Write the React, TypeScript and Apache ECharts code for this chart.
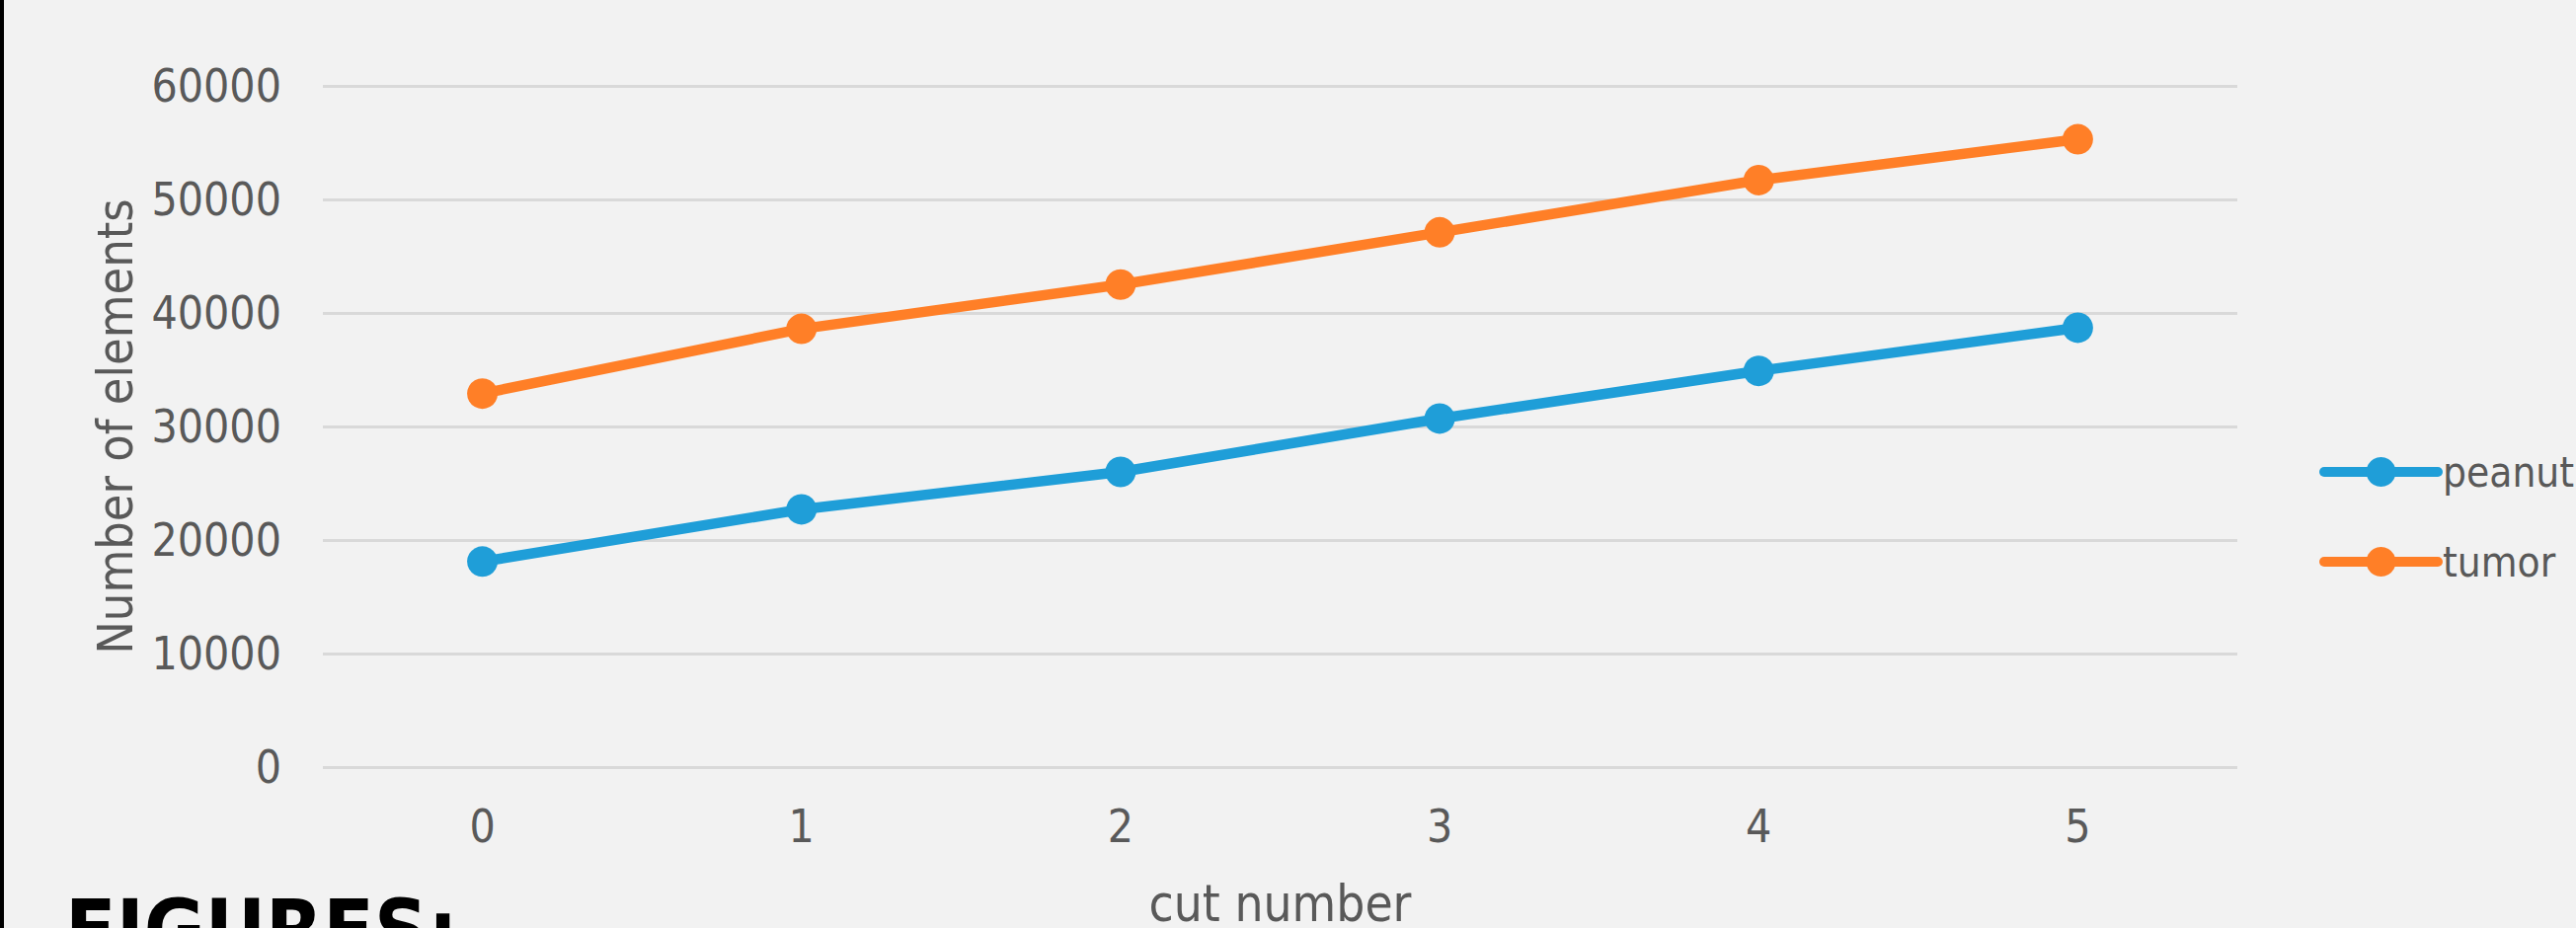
import React, { useEffect, useRef } from "react";
import * as echarts from "echarts";

const categories = ["0", "1", "2", "3", "4", "5"];
const peanut = [18100, 22700, 26000, 30700, 34900, 38700];
const tumor = [32900, 38600, 42500, 47100, 51700, 55300];
const yTicks = { min: 0, max: 60000, interval: 10000 };

const FONT = "'DejaVu Sans Condensed', 'DejaVu Sans', sans-serif";
const TEXT = "#595959";
const BLUE = "#1f9ed8";
const ORANGE = "#ff7f27";

export default function App() {
  const ref = useRef<HTMLDivElement>(null);
  useEffect(() => {
    if (!ref.current) return;
    const chart = echarts.init(ref.current, null, { renderer: "svg" });
    chart.setOption({
      animation: false,
      backgroundColor: "#f2f2f2",
      textStyle: { fontFamily: FONT },
      grid: {
        left: 327,
        right: 343,
        top: 87,
        bottom: 163,
        containLabel: false,
        outerBoundsMode: "none",
      },
      legend: {
        orient: "vertical",
        left: 2344,
        top: 447,
        itemWidth: 115,
        itemHeight: 37.5,
        itemGap: 39,
        itemTextGap: 4,
        lineStyle: { width: 10, cap: "round" },
        textStyle: { fontFamily: FONT, fontSize: 42, lineHeight: 52, color: TEXT },
        data: ["peanut", "tumor"],
      },
      xAxis: {
        type: "category",
        data: categories,
        boundaryGap: true,
        axisLine: { show: false },
        axisTick: { show: false },
        axisLabel: { fontFamily: FONT, fontSize: 46, color: TEXT, margin: 37 },
        name: "cut number",
        nameLocation: "middle",
        nameGap: 114,
        nameTextStyle: { fontFamily: FONT, fontSize: 51, lineHeight: 48, color: TEXT },
      },
      yAxis: {
        type: "value",
        min: yTicks.min,
        max: yTicks.max,
        interval: yTicks.interval,
        axisLine: { show: false },
        axisTick: { show: false },
        splitLine: { lineStyle: { color: "#d9d9d9", width: 3 } },
        axisLabel: {
          fontFamily: FONT,
          fontSize: 46,
          color: TEXT,
          margin: 42,
          formatter: (v: number) => String(v),
        },
        name: "Number of elements",
        nameLocation: "middle",
        nameGap: 184,
        nameTextStyle: { fontFamily: FONT, fontSize: 50, color: TEXT },
      },
      series: [
        {
          name: "peanut",
          type: "line",
          data: peanut,
          symbol: "circle",
          symbolSize: 31,
          color: BLUE,
          lineStyle: { width: 10.5, color: BLUE, cap: "round" },
          itemStyle: { color: BLUE },
        },
        {
          name: "tumor",
          type: "line",
          data: tumor,
          symbol: "circle",
          symbolSize: 31,
          color: ORANGE,
          lineStyle: { width: 10.5, color: ORANGE, cap: "round" },
          itemStyle: { color: ORANGE },
        },
      ],
      graphic: [
        {
          type: "rect",
          left: 0,
          top: 0,
          shape: { x: 0, y: 0, width: 4, height: 940 },
          style: { fill: "#000" },
          z: 100,
        },
        {
          type: "text",
          x: 66,
          y: 942,
          style: {
            text: "FIGURES:",
            fontFamily: FONT,
            fontWeight: "bold",
            fontSize: 84,
            fill: "#000",
            verticalAlign: "middle",
            align: "left",
          },
          z: 100,
        },
      ],
    });
    return () => chart.dispose();
  }, []);
  return (
    <div
      ref={ref}
      style={{ position: "absolute", left: 0, top: 0, width: 2609, height: 940 }}
    />
  );
}
